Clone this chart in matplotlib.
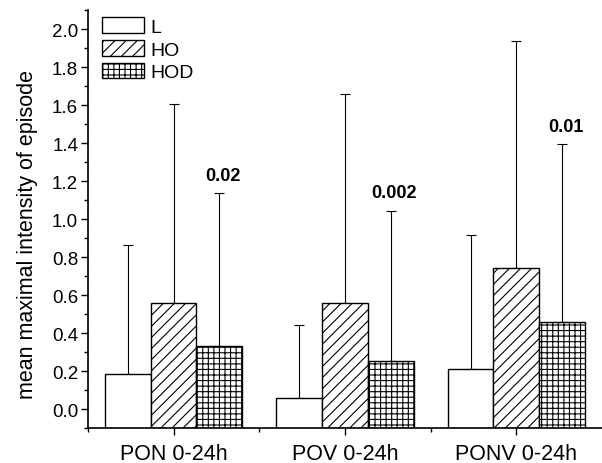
import numpy as np
import matplotlib
matplotlib.use("Agg")
import matplotlib.pyplot as plt
from matplotlib.ticker import MultipleLocator, FixedLocator, FormatStrFormatter

plt.rcParams['font.family'] = ['Liberation Sans', 'DejaVu Sans']
plt.rcParams['hatch.linewidth'] = 0.8

groups = ['PON 0-24h', 'POV 0-24h', 'PONV 0-24h']
series = ['L', 'HO', 'HOD']
means = {
    'L':   [0.185, 0.058, 0.21],
    'HO':  [0.558, 0.56, 0.744],
    'HOD': [0.333, 0.253, 0.46],
}
upper = {
    'L':   [0.865, 0.44, 0.917],
    'HO':  [1.604, 1.66, 1.94],
    'HOD': [1.137, 1.044, 1.395],
}
p_labels = ['0.02', '0.002', '0.01']
hatches = {'L': '', 'HO': '///', 'HOD': '+++'}

fig = plt.figure(figsize=(6.02, 4.64), dpi=100)
ax = fig.add_axes([0.146, 0.0754, 0.854, 0.9006])

ymin, ymax = -0.1, 2.1
x = np.arange(len(groups))
w = 0.267
for i, s in enumerate(series):
    xs = x + (i - 1) * w
    m = np.array(means[s])
    err = np.array(upper[s]) - m
    # bars are drawn up from the bottom of the axis, as in the original
    ax.bar(xs, m - ymin, w, bottom=ymin, color='white', edgecolor='black',
           linewidth=1.0, hatch=hatches[s], label=s, zorder=2)
    ax.errorbar(xs, m, yerr=[np.zeros_like(m), err], fmt='none',
                ecolor='black', elinewidth=0.8, capsize=3.5, capthick=0.8,
                zorder=1)

for j, lab in enumerate(p_labels):
    ax.text(x[j] + w + 0.02, upper['HOD'][j] + 0.05, lab, ha='center',
            va='bottom', fontsize=13, fontweight='bold')

ax.set_xlim(-0.5, 2.5)
ax.set_ylim(ymin, ymax)
ax.set_xticks(x)
ax.set_xticklabels(groups, fontsize=15.5)
ax.xaxis.set_minor_locator(FixedLocator([-0.5, 0.5, 1.5]))
ax.set_yticks(np.arange(0, 2.01, 0.2))
ax.yaxis.set_minor_locator(MultipleLocator(0.1))
ax.yaxis.set_major_formatter(FormatStrFormatter('%.1f'))
ax.tick_params(axis='y', labelsize=13.5, pad=2)
ax.tick_params(axis='x', pad=6)
ax.tick_params(which='major', direction='out', length=5, width=1)
ax.tick_params(which='minor', direction='out', length=3, width=1)
ax.set_ylabel('mean maximal intensity of episode', fontsize=15.5)
ax.yaxis.set_label_coords(-0.097, 0.465)

for sp in ['top', 'right']:
    ax.spines[sp].set_visible(False)
for sp in ['left', 'bottom']:
    ax.spines[sp].set_linewidth(1.2)

ax.legend(loc='upper left', bbox_to_anchor=(0.0, 1.015), frameon=False,
          fontsize=14, handlelength=2.2, handleheight=0.88,
          handletextpad=0.3, labelspacing=0.2, borderaxespad=0.3)

fig.savefig('out.png', dpi=100)
